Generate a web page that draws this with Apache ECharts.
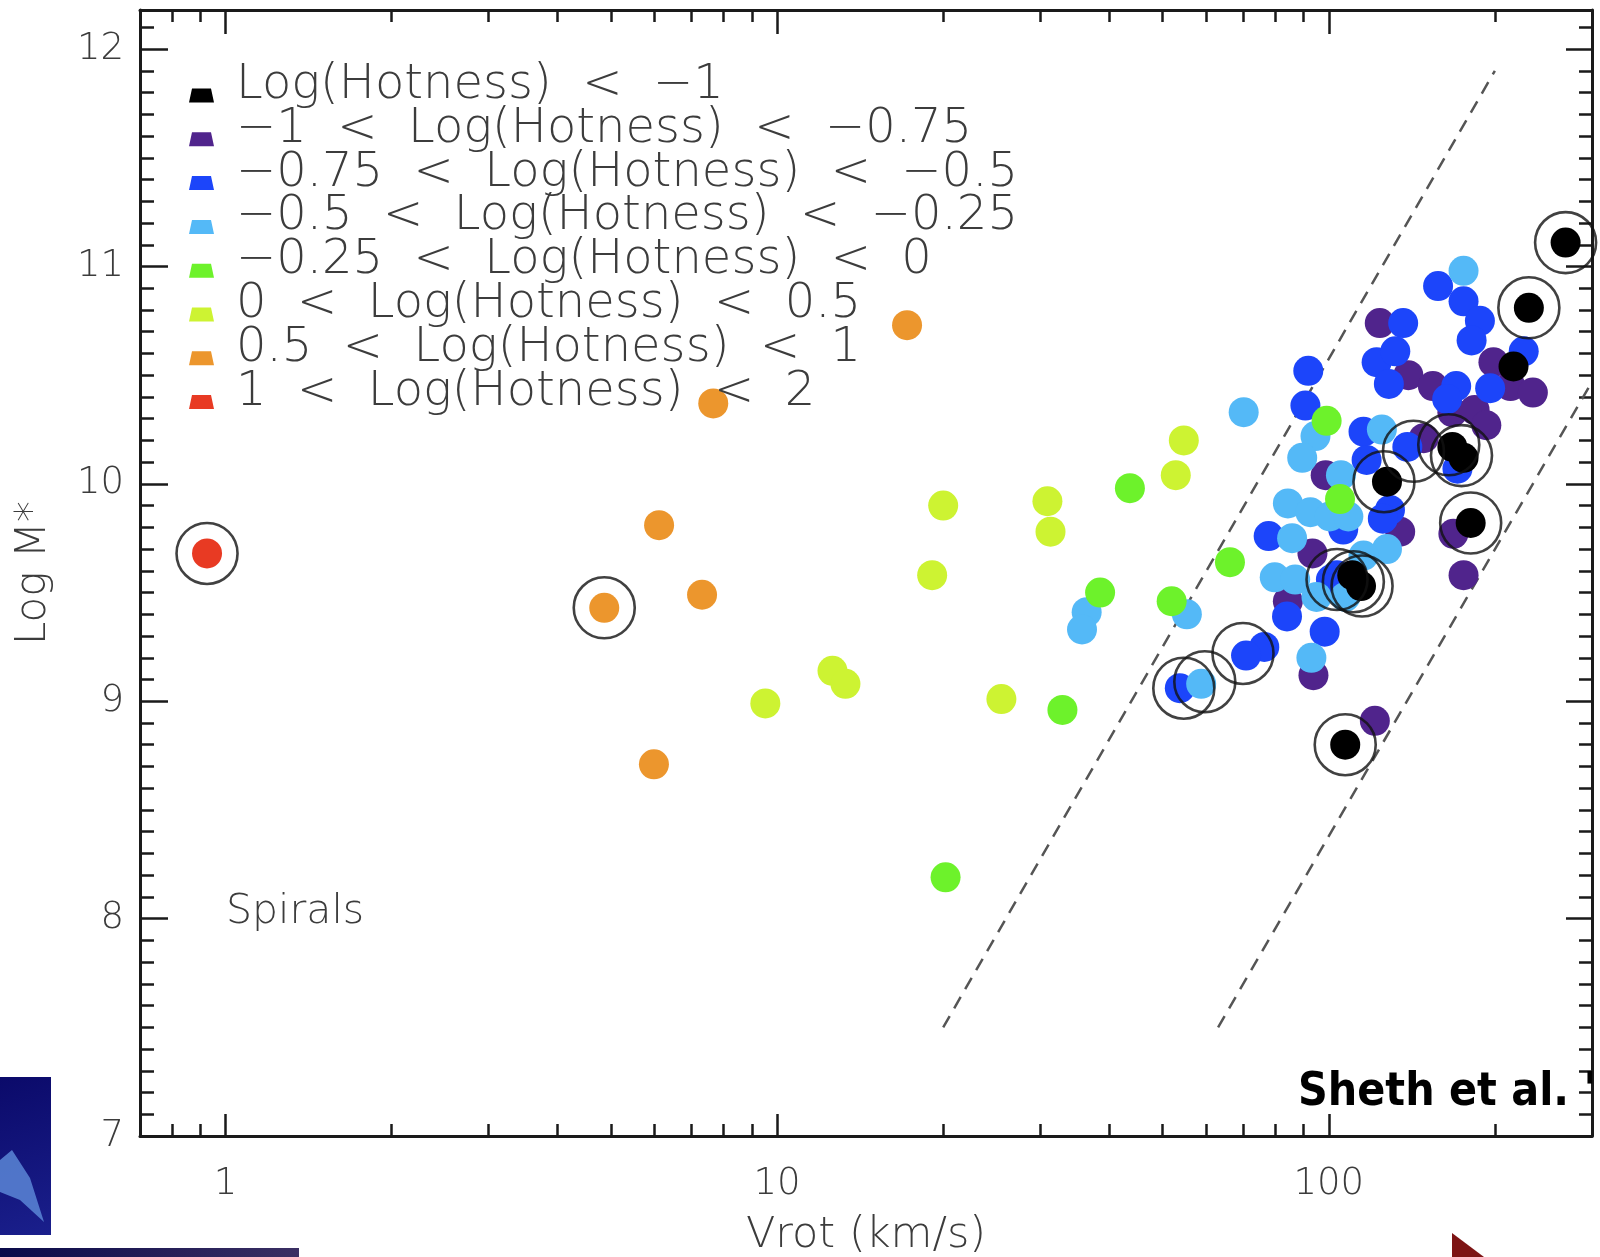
<!DOCTYPE html>
<html>
<head>
<meta charset="utf-8">
<script src="https://cdn.jsdelivr.net/npm/echarts@6/dist/echarts.min.js"></script>
<style>
  html, body { margin: 0; padding: 0; background: #ffffff; }
  #chart { width: 1600px; height: 1257px; }
</style>
</head>
<body>
<div id="chart"></div>
<script>
// ---- axis ticks ----
const xMajorTicks = [1, 10, 100];
const xMinorTicks = [0.8, 0.9, 2, 3, 4, 5, 6, 7, 8, 9, 20, 30, 40, 50, 60, 70, 80, 90, 200];
const yMajorTicks = [7, 8, 9, 10, 11, 12];
const yMinorTicks = [];
for (let i = 71; i <= 121; i++) { if (i % 10 !== 0) yMinorTicks.push(i / 10); }

// ---- legend / bin names ----
const binNames = [
  'Log(Hotness)  <  \u22121',
  '\u22121  <  Log(Hotness)  <  \u22120.75',
  '\u22120.75  <  Log(Hotness)  <  \u22120.5',
  '\u22120.5  <  Log(Hotness)  <  \u22120.25',
  '\u22120.25  <  Log(Hotness)  <  0',
  '0  <  Log(Hotness)  <  0.5',
  '0.5  <  Log(Hotness)  <  1',
  '1  <  Log(Hotness)  <  2'
];
const binColors = ['#000000', '#50248c', '#1c45fa', '#54b9f7', '#6df22b', '#cdf332', '#ec962d', '#e83a23'];

// ---- galaxies: [Vrot (km/s), Log M*] ----
const hotBlack = [
  [268.7, 11.11], [230.5, 10.81], [216.2, 10.54], [167.5, 10.17], [175.5, 10.12],
  [127.5, 10.01], [180.8, 9.82], [110.3, 9.58], [114.4, 9.53], [107.1, 8.80]
];
const hotPurple = [
  [123.7, 10.74], [139.4, 10.50], [154.4, 10.45], [167.5, 10.33], [183.8, 10.34],
  [193.0, 10.27], [198.8, 10.56], [213.5, 10.45], [234.4, 10.42], [148.6, 10.21],
  [98.7, 10.04], [134.7, 9.78], [168.2, 9.77], [175.5, 9.58], [84.3, 9.46],
  [93.8, 9.12], [121.2, 8.91], [93.4, 9.68]
];
const hotBlue = [
  [157.8, 10.91], [175.5, 10.84], [187.9, 10.75], [181.5, 10.66], [136.4, 10.74],
  [122.1, 10.56], [132.0, 10.61], [128.5, 10.46], [91.8, 10.52], [90.7, 10.36],
  [225.6, 10.61], [196.1, 10.44], [170.2, 10.45], [163.9, 10.39], [115.6, 10.24],
  [138.8, 10.17], [171.1, 10.07], [129.1, 9.88], [100.9, 9.56], [84.0, 9.39],
  [98.3, 9.32], [76.4, 9.25], [70.8, 9.21], [53.7, 9.06], [77.8, 9.76],
  [106.2, 9.79], [125.3, 9.84], [117.1, 10.11], [103.5, 9.58]
];
const hotLightBlue = [
  [36.4, 9.41], [35.7, 9.33], [55.3, 9.40], [58.7, 9.08], [70.1, 10.33],
  [175.5, 10.98], [94.6, 10.22], [89.5, 10.12], [124.8, 10.25], [105.2, 10.04],
  [84.3, 9.91], [92.6, 9.87], [100.4, 9.85], [108.5, 9.85], [127.5, 9.70],
  [85.8, 9.75], [79.8, 9.57], [86.9, 9.56], [95.0, 9.48], [107.1, 9.48],
  [93.0, 9.20], [115.6, 9.67]
];
const hotGreen = [
  [20.2, 8.19], [32.9, 8.96], [38.5, 9.50], [43.6, 9.98], [51.9, 9.46],
  [66.2, 9.64], [99.1, 10.29], [104.8, 9.93]
];
const hotYellow = [
  [9.52, 8.99], [12.6, 9.14], [13.3, 9.08], [19.1, 9.58], [20.0, 9.90],
  [25.5, 9.01], [30.9, 9.92], [31.3, 9.78], [52.8, 10.04], [54.6, 10.20]
];
const hotOrange = [
  [4.86, 9.43], [6.11, 9.81], [7.31, 9.49], [5.98, 8.71], [7.66, 10.37], [17.2, 10.73]
];
const hotRed = [[0.926, 9.68]];

// galaxies marked with an open circle
const ringed = [
  [0.926, 9.68], [4.86, 9.43], [54.6, 9.06], [59.6, 9.09], [69.9, 9.22],
  [103.5, 9.56], [110.8, 9.55], [114.9, 9.53], [107.1, 8.80], [125.9, 10.01],
  [142.4, 10.15], [165.0, 10.18], [174.0, 10.13], [180.8, 9.82], [230.5, 10.81],
  [268.7, 11.11]
];

// dashed guide lines
const guideA = [[20, 7.5], [200, 11.9]];
const guideB = [[63, 7.5], [300, 10.47]];

const LIGHT_FONT = "'DejaVu Sans Light', 'DejaVu Sans', sans-serif";
const TEXT_GREY = '#3c3c3c';
const AXIS_INK = '#1a1a1a';

const X_MIN = 0.7, X_MAX = 300, Y_MIN = 7, Y_MAX = 12.18;

function xAxisDef(position, ticks, len, showLine, withLabels) {
  return {
    type: 'log', logBase: 10, position: position, min: X_MIN, max: X_MAX,
    axisLine: { show: showLine, onZero: false, lineStyle: { color: AXIS_INK, width: 3 } },
    axisTick: { show: true, inside: true, length: len, customValues: ticks,
                lineStyle: { color: AXIS_INK, width: 2.5 } },
    axisLabel: withLabels ? {
      show: true, customValues: xMajorTicks, margin: 30,
      fontSize: 37, fontFamily: LIGHT_FONT, fontWeight: 200, color: TEXT_GREY
    } : { show: false },
    splitLine: { show: false }, minorTick: { show: false }
  };
}
function yAxisDef(position, ticks, len, showLine, withLabels) {
  return {
    type: 'value', position: position, min: Y_MIN, max: Y_MAX, offset: 0,
    axisLine: { show: showLine, onZero: false, lineStyle: { color: AXIS_INK, width: 3 } },
    axisTick: { show: true, inside: true, length: len, customValues: ticks,
                lineStyle: { color: AXIS_INK, width: 2.5 } },
    axisLabel: withLabels ? {
      show: true, customValues: yMajorTicks, margin: 16,
      fontSize: 37, fontFamily: LIGHT_FONT, fontWeight: 200, color: TEXT_GREY
    } : { show: false },
    splitLine: { show: false }, minorTick: { show: false }
  };
}

const xAxes = [
  xAxisDef('bottom', xMajorTicks, 22, true, true),
  xAxisDef('bottom', xMinorTicks, 12, false, false),
  xAxisDef('top', xMajorTicks, 24, true, false),
  xAxisDef('top', xMinorTicks, 12, false, false)
];
xAxes[0].name = 'Vrot (km/s)';
xAxes[0].nameLocation = 'middle';
xAxes[0].nameGap = 78;
xAxes[0].nameTextStyle = { fontSize: 43, fontFamily: LIGHT_FONT, fontWeight: 200, color: TEXT_GREY };

const yAxes = [
  yAxisDef('left', yMajorTicks, 28, true, true),
  yAxisDef('left', yMinorTicks, 14, false, false),
  yAxisDef('right', yMajorTicks, 26, true, false),
  yAxisDef('right', yMinorTicks, 13, false, false)
];
yAxes[0].name = 'Log M*';
yAxes[0].nameLocation = 'middle';
yAxes[0].nameRotate = 90;
yAxes[0].nameGap = 85;
yAxes[0].nameTextStyle = { fontSize: 42, fontFamily: LIGHT_FONT, fontWeight: 200, color: TEXT_GREY };

function dots(name, data, color, z) {
  return {
    name: name, type: 'scatter', data: data, symbol: 'circle', symbolSize: 30,
    itemStyle: { color: color, opacity: 1 }, z: z, silent: true
  };
}

const series = [
  { type: 'line', data: guideA, showSymbol: false, symbol: 'none', silent: true, z: 1,
    lineStyle: { color: '#555555', width: 2.5, type: [13, 9] } },
  { type: 'line', data: guideB, showSymbol: false, symbol: 'none', silent: true, z: 1,
    lineStyle: { color: '#555555', width: 2.5, type: [13, 9] } },
  dots(binNames[1], hotPurple, binColors[1], 2),
  dots(binNames[2], hotBlue, binColors[2], 2),
  dots(binNames[3], hotLightBlue, binColors[3], 2),
  dots(binNames[4], hotGreen, binColors[4], 2),
  dots(binNames[5], hotYellow, binColors[5], 2),
  dots(binNames[6], hotOrange, binColors[6], 2),
  dots(binNames[7], hotRed, binColors[7], 2),
  dots(binNames[0], hotBlack, binColors[0], 3),
  { type: 'scatter', data: ringed, symbol: 'circle', symbolSize: 61, silent: true, z: 4,
    itemStyle: { color: 'rgba(0,0,0,0)', borderColor: '#111111', borderWidth: 2.6 } }
];

// legend key: a small trapezoid sitting at the foot of a taller (empty) icon box,
// so the swatch lines up with the text baseline rather than its middle
const legendIcon = 'path://M0,0L0.2,0ZM3,23L22,23L25,37L0,37ZM0,40L0.2,40Z';

const chart = echarts.init(document.getElementById('chart'), null, { renderer: 'canvas' });
chart.setOption({
  animation: false,
  backgroundColor: '#ffffff',
  grid: { left: 140, top: 10, width: 1452, height: 1126, containLabel: false, outerBoundsMode: 'none' },
  xAxis: xAxes,
  yAxis: yAxes,
  legend: {
    data: binNames,
    orient: 'vertical', left: 189, top: 61.5, padding: 0, itemGap: -4.2,
    itemWidth: 25, itemHeight: 40,
    icon: legendIcon,
    selectedMode: false,
    textStyle: { fontSize: 48, lineHeight: 42, padding: [0, 0, 0, 17],
                 fontFamily: LIGHT_FONT, fontWeight: 200, color: TEXT_GREY }
  },
  graphic: [
    { type: 'text', left: 226, top: 892, z: 10,
      style: { text: 'Spirals', fontSize: 41, fontFamily: LIGHT_FONT, fontWeight: 200, fill: TEXT_GREY } },
    { type: 'text', left: 1298, top: 1070, z: 10,
      style: { text: "Sheth et al. '12", fontSize: 46, fontWeight: 'bold',
               fontFamily: "'DejaVu Sans Condensed', 'DejaVu Sans', sans-serif", fill: '#000000' } },
    // slide furniture around the figure
    { type: 'rect', shape: { x: 0, y: 1077, width: 51, height: 158 }, z: 10,
      style: { fill: new echarts.graphic.LinearGradient(0, 0, 1, 1, [
        { offset: 0, color: '#0b0a6a' }, { offset: 1, color: '#1a1f8c' }]) } },
    { type: 'polygon', shape: { points: [[0, 1160], [12, 1150], [30, 1178], [44, 1222], [20, 1200], [0, 1192]] }, z: 11,
      style: { fill: '#5a86d6', opacity: 0.85 } },
    { type: 'rect', shape: { x: 0, y: 1248, width: 299, height: 9 }, z: 10,
      style: { fill: new echarts.graphic.LinearGradient(0, 0, 1, 0, [
        { offset: 0, color: '#0a0a4a' }, { offset: 1, color: '#3a2f63' }]) } },
    { type: 'polygon', shape: { points: [[1452, 1233], [1484, 1257], [1452, 1257]] }, z: 10,
      style: { fill: '#7d1414' } }
  ],
  series: series
});
</script>
</body>
</html>
